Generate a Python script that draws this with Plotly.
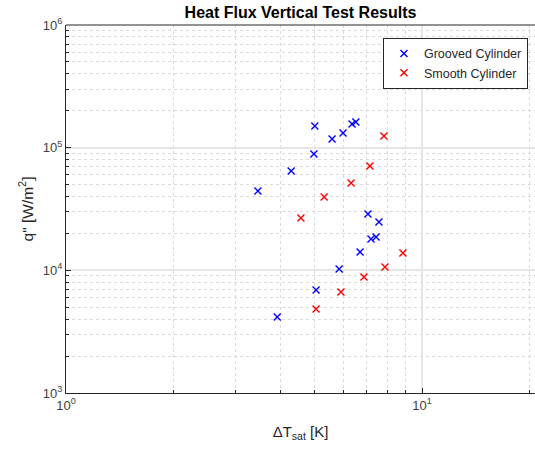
import plotly.graph_objects as go

# Data
grooved_dT = [5.00, 5.59, 6.00, 6.36, 6.52, 4.97, 4.29, 3.46, 7.05, 7.57, 7.19, 7.43, 6.70, 5.85, 5.04, 3.92]
grooved_q = [150000, 117700, 131700, 156000, 162000, 88800, 64500, 44350, 28800, 24770, 18000, 18700, 14100, 10250, 6920, 4170]
smooth_dT = [7.82, 7.14, 6.32, 5.31, 4.57, 8.84, 7.87, 6.87, 5.92, 5.04]
smooth_q = [124500, 70900, 51500, 39600, 26700, 13840, 10650, 8830, 6660, 4840]

x_tickvals = [1, 10]
x_ticktext = ["10<sup>0</sup>", "10<sup>1</sup>"]
y_tickvals = [1e3, 1e4, 1e5, 1e6]
y_ticktext = ["10<sup>3</sup>", "10<sup>4</sup>", "10<sup>5</sup>", "10<sup>6</sup>"]

x_minor = [m * d for d in (1, 10) for m in range(2, 10)]
y_minor = [m * d for d in (1e3, 1e4, 1e5) for m in range(2, 10)]

AX = "#262626"
FONT = "Liberation Sans, Arial, sans-serif"

fig = go.Figure()
fig.add_trace(go.Scatter(
    x=grooved_dT, y=grooved_q, mode="markers", name="Grooved Cylinder",
    marker=dict(symbol="x-thin", size=7, line=dict(width=1.4, color="#0000ff"), color="#0000ff"),
))
fig.add_trace(go.Scatter(
    x=smooth_dT, y=smooth_q, mode="markers", name="Smooth Cylinder",
    marker=dict(symbol="x-thin", size=7, line=dict(width=1.4, color="#ff0000"), color="#ff0000"),
))

fig.update_layout(
    width=535, height=450,
    margin=dict(l=66, r=0, t=25, b=57),
    paper_bgcolor="white", plot_bgcolor="white",
    font=dict(family=FONT, size=12, color=AX),
    title=dict(text="<b>Heat Flux Vertical Test Results</b>", x=0.5, xref="paper",
               y=1 - 12 / 450, yref="container", yanchor="middle",
               font=dict(size=16, color="#000000")),
    showlegend=True,
    legend=dict(x=0.985, y=0.965, xanchor="right", yanchor="top",
                bgcolor="white", bordercolor=AX, borderwidth=1,
                font=dict(size=12.5, color=AX), itemwidth=30,
                tracegroupgap=0),
)

grid_major = "#e6e6e6"
grid_minor = "#dadada"

fig.update_xaxes(
    type="log", range=[0, 1.3174],
    tickmode="array", tickvals=x_tickvals, ticktext=x_ticktext,
    ticks="inside", ticklen=5, tickcolor=AX, tickfont=dict(size=13, color="#404040"),
    showline=True, linecolor=AX, linewidth=1, mirror=False,
    showgrid=True, gridcolor=grid_major, gridwidth=1.5,
    minor=dict(tickmode="array", tickvals=x_minor, ticks="inside", ticklen=3, tickcolor=AX,
               showgrid=True, gridcolor=grid_minor, griddash="dot", gridwidth=1),
    zeroline=False,
    title=dict(text="ΔT<sub>sat</sub> [K]", font=dict(size=15, color=AX), standoff=14),
)
fig.update_yaxes(
    type="log", range=[3, 6],
    tickmode="array", tickvals=y_tickvals, ticktext=y_ticktext,
    ticks="inside", ticklen=5, tickcolor=AX, tickfont=dict(size=13, color="#404040"),
    showline=True, linecolor=AX, linewidth=1, mirror=False,
    showgrid=True, gridcolor=grid_major, gridwidth=1.5,
    minor=dict(tickmode="array", tickvals=y_minor, ticks="inside", ticklen=3, tickcolor=AX,
               showgrid=True, gridcolor=grid_minor, griddash="dot", gridwidth=1),
    zeroline=False,
    title=dict(text='q" [W/m<sup>2</sup>]', font=dict(size=15.5, color=AX), standoff=5),
)
# top border line
fig.add_shape(type="line", xref="paper", yref="paper", x0=0, x1=1, y0=1, y1=1,
              line=dict(color=AX, width=1))

fig.write_html("out.html")
